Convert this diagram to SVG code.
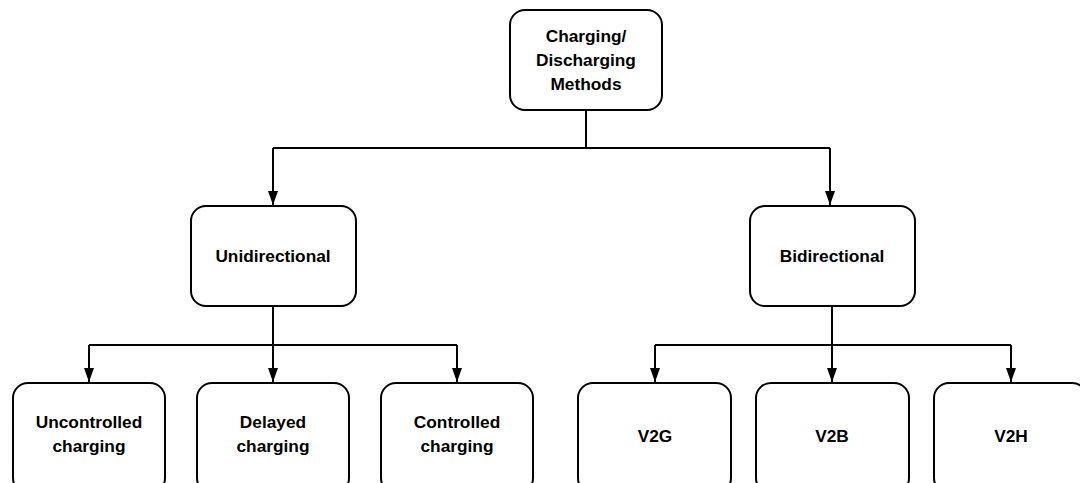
<svg xmlns="http://www.w3.org/2000/svg" width="1080" height="483" viewBox="0 0 1080 483">
<defs>
<marker id="arr" viewBox="0 0 14 10" refX="14" refY="5" markerWidth="14" markerHeight="10" markerUnits="userSpaceOnUse" orient="auto">
<path d="M0,0 L14,5 L0,10 Z" fill="#000"/>
</marker>
<style>
.box{fill:#fff;stroke:#000;stroke-width:2}
.lbl{font-family:"Liberation Sans",Arial,sans-serif;font-weight:bold;font-size:17.3px;fill:#000;text-anchor:middle}
.ln{fill:none;stroke:#000;stroke-width:2}
</style>
</defs>
<rect width="1080" height="483" fill="#fff"/>
<g id="connectors">
<path class="ln" d="M586,110 V148 M273,148 H830"/>
<path class="ln" d="M273,148 V205" marker-end="url(#arr)"/>
<path class="ln" d="M830,148 V205" marker-end="url(#arr)"/>
<path class="ln" d="M273,306 V345 M89,345 H457"/>
<path class="ln" d="M89,345 V382" marker-end="url(#arr)"/>
<path class="ln" d="M273,345 V382" marker-end="url(#arr)"/>
<path class="ln" d="M457,345 V382" marker-end="url(#arr)"/>
<path class="ln" d="M832,306 V345 M655,345 H1011"/>
<path class="ln" d="M655,345 V382" marker-end="url(#arr)"/>
<path class="ln" d="M832,345 V382" marker-end="url(#arr)"/>
<path class="ln" d="M1011,345 V382" marker-end="url(#arr)"/>
</g>
<g id="root">
<rect class="box" x="510" y="10" width="152" height="100" rx="15"/>
<text class="lbl" x="586" y="42">Charging/</text>
<text class="lbl" x="586" y="66">Discharging</text>
<text class="lbl" x="586" y="90">Methods</text>
</g>
<g id="unidirectional">
<rect class="box" x="191" y="206" width="165" height="100" rx="15"/>
<text class="lbl" x="273" y="262">Unidirectional</text>
</g>
<g id="bidirectional">
<rect class="box" x="750" y="206" width="165" height="100" rx="15"/>
<text class="lbl" x="832" y="262">Bidirectional</text>
</g>
<g id="uncontrolled">
<rect class="box" x="13" y="383" width="152" height="110" rx="15"/>
<text class="lbl" x="89" y="428">Uncontrolled</text>
<text class="lbl" x="89" y="452">charging</text>
</g>
<g id="delayed">
<rect class="box" x="197" y="383" width="152" height="110" rx="15"/>
<text class="lbl" x="273" y="428">Delayed</text>
<text class="lbl" x="273" y="452">charging</text>
</g>
<g id="controlled">
<rect class="box" x="381" y="383" width="152" height="110" rx="15"/>
<text class="lbl" x="457" y="428">Controlled</text>
<text class="lbl" x="457" y="452">charging</text>
</g>
<g id="v2g">
<rect class="box" x="578" y="383" width="153" height="110" rx="15"/>
<text class="lbl" x="655" y="442">V2G</text>
</g>
<g id="v2b">
<rect class="box" x="756" y="383" width="153" height="110" rx="15"/>
<text class="lbl" x="832" y="442">V2B</text>
</g>
<g id="v2h">
<rect class="box" x="934" y="383" width="153" height="110" rx="15"/>
<text class="lbl" x="1011" y="442">V2H</text>
</g>
</svg>
